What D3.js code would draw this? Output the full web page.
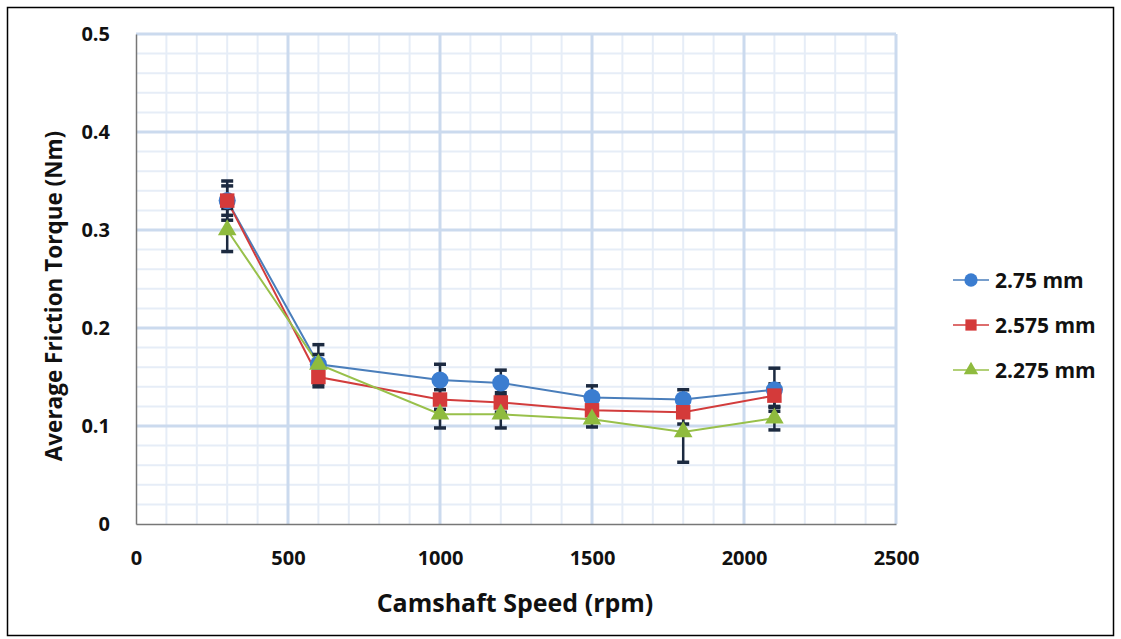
<!DOCTYPE html>
<html>
<head>
<meta charset="utf-8">
<script src="https://cdn.jsdelivr.net/npm/d3@7"></script>
<style>
  body { margin: 0; background: #fff; }
  text { font-family: "Open Sans", "DejaVu Sans", sans-serif; font-weight: bold; fill: #111; }
</style>
</head>
<body>
<div id="chart"></div>
<script>
// camshaft speeds (rpm)
const speeds = [300, 600, 1000, 1200, 1500, 1800, 2100];
const seriesNames = ["2.75 mm", "2.575 mm", "2.275 mm"];
const torque275 = [0.330, 0.163, 0.147, 0.144, 0.129, 0.127, 0.137];
const torque2575 = [0.330, 0.150, 0.127, 0.124, 0.116, 0.114, 0.131];
const torque2275 = [0.300, 0.163, 0.112, 0.112, 0.107, 0.094, 0.108];
const err275 = [0.020, 0.020, 0.016, 0.013, 0.012, 0.010, 0.022];
const err2575 = [0.015, 0.010, 0.010, 0.010, 0.010, 0.012, 0.012];
const err2275 = [0.022, 0.010, 0.014, 0.014, 0.008, 0.031, 0.012];
const xTicks = [0, 500, 1000, 1500, 2000, 2500];
const yTicks = [0, 0.1, 0.2, 0.3, 0.4, 0.5];

const W = 1121, H = 639;
const margin = { top: 34, right: 225, bottom: 115, left: 136 };
const width = W - margin.left - margin.right;
const height = H - margin.top - margin.bottom;

const svg = d3.select("#chart").append("svg")
  .attr("width", W).attr("height", H);

// outer frame
svg.append("rect")
  .attr("x", 7.5).attr("y", 7.5).attr("width", 1106).attr("height", 628)
  .attr("fill", "none").attr("stroke", "#000").attr("stroke-width", 1.5);

const g = svg.append("g").attr("transform", `translate(${margin.left},${margin.top})`);

const x = d3.scaleLinear().domain([0, 2500]).range([0, width]);
const y = d3.scaleLinear().domain([0, 0.5]).range([height, 0]);

// minor grid
g.append("g").selectAll("line").data(d3.range(100, 2500, 100).filter(v => v % 500 != 0))
  .enter().append("line")
  .attr("x1", d => x(d)).attr("x2", d => x(d)).attr("y1", 0).attr("y2", height)
  .attr("stroke", "#e6edf7").attr("stroke-width", 2);
g.append("g").selectAll("line").data(d3.range(1, 25).map(i => i * 0.02).filter((v, i) => (i + 1) % 5 != 0))
  .enter().append("line")
  .attr("y1", d => y(d)).attr("y2", d => y(d)).attr("x1", 0).attr("x2", width)
  .attr("stroke", "#e6edf7").attr("stroke-width", 2);
// major grid
g.append("g").selectAll("line").data(xTicks.slice(1))
  .enter().append("line")
  .attr("x1", d => x(d)).attr("x2", d => x(d)).attr("y1", 0).attr("y2", height)
  .attr("stroke", "#cbdaee").attr("stroke-width", 3);
g.append("g").selectAll("line").data(yTicks.slice(1))
  .enter().append("line")
  .attr("y1", d => y(d)).attr("y2", d => y(d)).attr("x1", 0).attr("x2", width)
  .attr("stroke", "#cbdaee").attr("stroke-width", 3);

// axes
const xAxis = g.append("g").attr("transform", `translate(0,${height})`)
  .call(d3.axisBottom(x).tickValues(xTicks).tickSize(0).tickPadding(27).tickFormat(d3.format("d")));
const yAxis = g.append("g")
  .call(d3.axisLeft(y).tickValues(yTicks).tickSize(0).tickPadding(26)
    .tickFormat(d => d === 0 ? "0" : d3.format(".1f")(d)));
[xAxis, yAxis].forEach(a => {
  a.select(".domain").attr("stroke", "#777").attr("stroke-width", 1.5);
  a.selectAll("text").style("font-size", "20px").attr("fill", "#111");
});

const series = [
  { name: seriesNames[0], vals: torque275, err: err275, line: "#4a7ebb", fill: "#3b7dd0", shape: d3.symbolCircle, size: 230 },
  { name: seriesNames[1], vals: torque2575, err: err2575, line: "#d23c3c", fill: "#d43a3a", shape: d3.symbolSquare, size: 210 },
  { name: seriesNames[2], vals: torque2275, err: err2275, line: "#98c04a", fill: "#8fbb3e", shape: d3.symbolTriangle, size: 150 }
];

const line = d3.line().x(d => x(d[0])).y(d => y(d[1]));

series.forEach(s => {
  const pts = speeds.map((v, i) => [v, s.vals[i], s.err[i]]);
  g.append("path").datum(pts).attr("d", line)
    .attr("fill", "none").attr("stroke", s.line).attr("stroke-width", 2);
});

// error bars
series.forEach(s => {
  const pts = speeds.map((v, i) => [v, s.vals[i], s.err[i]]);
  const eb = g.append("g").attr("stroke", "#1c2a40").attr("stroke-width", 2.5);
  eb.selectAll(".v").data(pts).enter().append("line")
    .attr("x1", d => x(d[0])).attr("x2", d => x(d[0]))
    .attr("y1", d => y(d[1] - d[2])).attr("y2", d => y(d[1] + d[2]));
  eb.selectAll(".t").data(pts).enter().append("line")
    .attr("x1", d => x(d[0]) - 6).attr("x2", d => x(d[0]) + 6)
    .attr("y1", d => y(d[1] + d[2])).attr("y2", d => y(d[1] + d[2])).attr("stroke-width", 3.5);
  eb.selectAll(".b").data(pts).enter().append("line")
    .attr("x1", d => x(d[0]) - 6).attr("x2", d => x(d[0]) + 6)
    .attr("y1", d => y(d[1] - d[2])).attr("y2", d => y(d[1] - d[2])).attr("stroke-width", 3.5);
});

// markers
series.forEach(s => {
  const pts = speeds.map((v, i) => [v, s.vals[i]]);
  g.append("g").selectAll("path").data(pts).enter().append("path")
    .attr("d", d3.symbol().type(s.shape).size(s.size))
    .attr("transform", d => `translate(${x(d[0])},${y(d[1])})`)
    .attr("fill", s.fill);
});

// axis titles
svg.append("text").attr("x", 515).attr("y", 612).attr("text-anchor", "middle")
  .style("font-size", "25px").text("Camshaft Speed (rpm)");
svg.append("text").attr("transform", "translate(62,296) rotate(-90)").attr("text-anchor", "middle")
  .style("font-size", "22.5px").text("Average Friction Torque (Nm)");

// legend
const leg = svg.append("g").attr("transform", "translate(953,280)");
series.forEach((s, i) => {
  const row = leg.append("g").attr("transform", `translate(0,${i * 45})`);
  row.append("line").attr("x1", 0).attr("x2", 36).attr("y1", 0).attr("y2", 0)
    .attr("stroke", s.line).attr("stroke-width", 1.5);
  row.append("path").attr("d", d3.symbol().type(s.shape).size(s.size * 0.6))
    .attr("transform", "translate(18,0)").attr("fill", s.fill);
  row.append("text").attr("x", 42).attr("y", 8).style("font-size", "21px").text(s.name);
});
</script>
</body>
</html>
